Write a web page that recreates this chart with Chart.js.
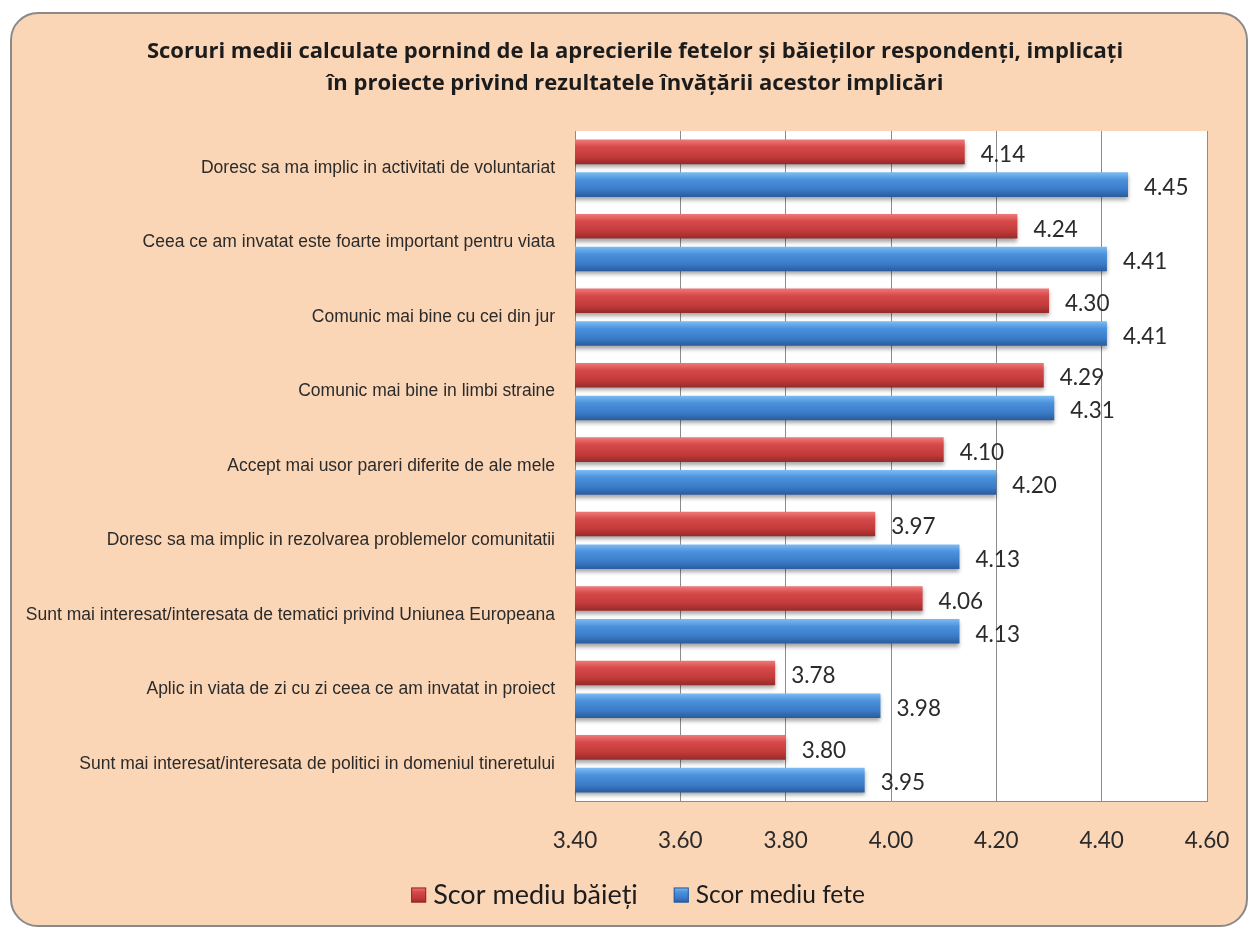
<!DOCTYPE html>
<html>
<head>
<meta charset="utf-8">
<script src="https://cdn.jsdelivr.net/npm/chart.js@4/dist/chart.umd.min.js"></script>
<style>
  html, body { margin: 0; padding: 0; background: #ffffff; }
  #frame {
    position: absolute; left: 10px; top: 12px; width: 1238px; height: 915px;
    box-sizing: border-box; border: 2px solid #8a8a8a; border-radius: 28px;
    background: #fad5b6;
  }
  #wrap { position: absolute; left: 0; top: 0; width: 1249px; height: 928px; }
</style>
</head>
<body>
<div id="frame"></div>
<div id="wrap"><canvas id="chart"></canvas></div>
<script>
// ---------------- data ----------------
const categories = [
    "Doresc sa ma implic in activitati de voluntariat",
    "Ceea ce am invatat este foarte important pentru viata",
    "Comunic mai bine cu cei din jur",
    "Comunic mai bine in limbi straine",
    "Accept mai usor pareri diferite de ale mele",
    "Doresc sa ma implic in rezolvarea problemelor comunitatii",
    "Sunt mai interesat/interesata de tematici privind Uniunea Europeana",
    "Aplic in viata de zi cu zi ceea ce am invatat in proiect",
    "Sunt mai interesat/interesata de politici in domeniul tineretului",
];
const boysScores = [4.14, 4.24, 4.30, 4.29, 4.10, 3.97, 4.06, 3.78, 3.80];
const girlsScores = [4.45, 4.41, 4.41, 4.31, 4.20, 4.13, 4.13, 3.98, 3.95];
const seriesNames = ["Scor mediu băieți", "Scor mediu fete"];
const titleLines = [
    "Scoruri medii calculate pornind de la aprecierile fetelor și băieților respondenți, implicați",
    "în proiecte privind rezultatele învățării acestor implicări",
];

// ---------------- look ----------------
const CAT_PCT = 0.88;
const BAR_PCT = 0.75;
const redStops = ["#ee7a78", "#d6494a", "#c23a3a", "#962a2a"];
const blueStops = ["#7dbcf3", "#4b91dc", "#3a7bc8", "#2a5b9c"];

function stopsGradient(ctx, stops, y0, y1) {
    const g = ctx.createLinearGradient(0, y0, 0, y1);
    g.addColorStop(0, stops[0]);
    g.addColorStop(0.3, stops[1]);
    g.addColorStop(0.7, stops[2]);
    g.addColorStop(1, stops[3]);
    return g;
}

// vertical gradient per bar, computed from the y scale
function barFill(ctx) {
    const chart = ctx.chart;
    const y = chart.scales.y;
    const stops = ctx.datasetIndex === 0 ? redStops : blueStops;
    if (!y || !chart.chartArea || ctx.type !== "data") return stops[2];
    const c = y.getPixelForValue(ctx.dataIndex);
    const band = y.height / categories.length;
    const t = (band * CAT_PCT / 2) * BAR_PCT;
    const center = c + (ctx.datasetIndex === 0 ? -1 : 1) * band * CAT_PCT / 4;
    return stopsGradient(chart.ctx, stops, center - t / 2, center + t / 2);
}

// white plot area
const plotBg = {
    id: "plotBg",
    beforeDraw(chart) {
        const { ctx, chartArea: a } = chart;
        ctx.save();
        ctx.fillStyle = "#ffffff";
        ctx.fillRect(a.left, a.top, a.right - a.left, a.bottom - a.top);
        ctx.restore();
    },
};

// soft shadow under bars
const barShadow = {
    id: "barShadow",
    beforeDatasetsDraw(chart) {
        const ctx = chart.ctx;
        ctx.save();
        ctx.shadowColor = "rgba(0,0,0,0.35)";
        ctx.shadowBlur = 4;
        ctx.shadowOffsetY = 3;
    },
    afterDatasetsDraw(chart) {
        chart.ctx.restore();
    },
};

// value labels right of bars
const valueLabels = {
    id: "valueLabels",
    afterDatasetsDraw(chart) {
        const ctx = chart.ctx;
        ctx.save();
        ctx.font = "22.5px Lato, 'Open Sans', sans-serif";
        ctx.fillStyle = "#2b2b2b";
        ctx.textAlign = "left";
        ctx.textBaseline = "middle";
        chart.data.datasets.forEach((ds, di) => {
            chart.getDatasetMeta(di).data.forEach((bar, i) => {
                ctx.fillText(ds.data[i].toFixed(2), bar.x + 16, bar.y + 3);
            });
        });
        ctx.restore();
    },
};

// title, centred on the frame rather than the plot
const titleText = {
    id: "titleText",
    afterDraw(chart) {
        const ctx = chart.ctx;
        ctx.save();
        ctx.font = "bold 22px 'Open Sans', Lato, sans-serif";
        ctx.fillStyle = "#1c1c1c";
        ctx.textAlign = "center";
        ctx.textBaseline = "middle";
        ctx.fillText(titleLines[0], 635, 52);
        ctx.fillText(titleLines[1], 635, 84);
        ctx.restore();
    },
};

// legend row below the axis
const legendRow = {
    id: "legendRow",
    afterDraw(chart) {
        const ctx = chart.ctx;
        const fonts = ["27px Lato, sans-serif", "24.5px Lato, sans-serif"];
        const box = 15, gap = 7, between = 36, cx = 638, cy = 895;
        ctx.save();
        const widths = seriesNames.map((s, i) => {
            ctx.font = fonts[i];
            return ctx.measureText(s).width;
        });
        let x = cx - (widths[0] + widths[1] + 2 * (box + gap) + between) / 2;
        seriesNames.forEach((s, i) => {
            const stops = i === 0 ? redStops : blueStops;
            ctx.fillStyle = stopsGradient(ctx, stops, cy - box / 2, cy + box / 2);
            ctx.fillRect(x, cy - box / 2, box, box);
            ctx.strokeStyle = stops[3];
            ctx.lineWidth = 1;
            ctx.strokeRect(x + 0.5, cy - box / 2 + 0.5, box - 1, box - 1);
            x += box + gap;
            ctx.font = fonts[i];
            ctx.fillStyle = "#1c1c1c";
            ctx.textAlign = "left";
            ctx.textBaseline = "middle";
            ctx.fillText(s, x, cy);
            x += widths[i] + between;
        });
        ctx.restore();
    },
};

new Chart(document.getElementById("chart"), {
    type: "bar",
    data: {
        labels: categories,
        datasets: [
            {
                label: seriesNames[0],
                data: boysScores,
                backgroundColor: barFill,
                categoryPercentage: CAT_PCT,
                barPercentage: BAR_PCT,
            },
            {
                label: seriesNames[1],
                data: girlsScores,
                backgroundColor: barFill,
                categoryPercentage: CAT_PCT,
                barPercentage: BAR_PCT,
            },
        ],
    },
    options: {
        indexAxis: "y",
        responsive: true,
        maintainAspectRatio: false,
        animation: false,
        layout: { padding: { left: 0, right: 42, top: 131, bottom: 66 } },
        plugins: {
            title: { display: false },
            legend: { display: false },
            tooltip: { enabled: false },
        },
        scales: {
            x: {
                min: 3.4,
                max: 4.6,
                ticks: {
                    stepSize: 0.2,
                    color: "#2b2b2b",
                    font: { family: "Lato, 'Open Sans', sans-serif", size: 22.5 },
                    padding: 26,
                    callback: (v) => Number(v).toFixed(2),
                },
                grid: { color: "#8c8c8c", lineWidth: 1, drawTicks: false },
                border: { display: true, color: "#8c8c8c" },
                afterFit: (scale) => {
                    scale.height = 61;
                    scale.paddingLeft = 0;
                    scale.paddingRight = 0;
                },
            },
            y: {
                ticks: {
                    color: "#2b2b2b",
                    font: { family: "'Liberation Sans Narrow', 'Liberation Sans', sans-serif", size: 17.5 },
                    padding: 12,
                },
                grid: { display: false },
                border: { display: true, color: "#8c8c8c" },
                afterFit: (scale) => { scale.width = 575; },
            },
        },
    },
    plugins: [plotBg, barShadow, valueLabels, titleText, legendRow],
});
</script>
</body>
</html>
